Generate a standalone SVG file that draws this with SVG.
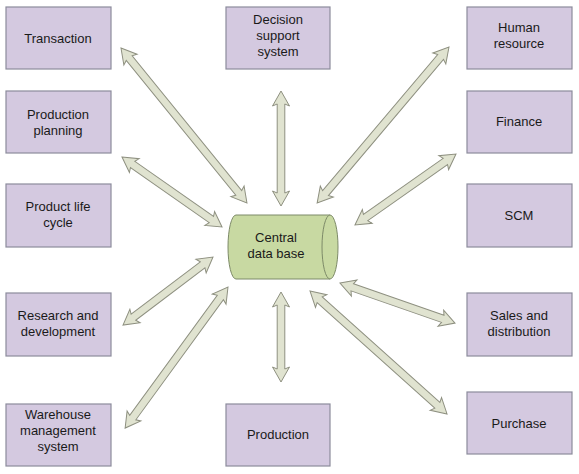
<svg xmlns="http://www.w3.org/2000/svg" width="579" height="474" viewBox="0 0 579 474">
<style>
.box{fill:#d4c9e0;stroke:#8c8c9c;stroke-width:1.2}
.t{font-family:"Liberation Sans",Arial,sans-serif;font-size:13px;fill:#1a1a1a;text-anchor:middle}
.arr{fill:#e0e3d0;stroke:#8e9080;stroke-width:1}
.cyl{fill:#c8d9a2;stroke:#7d8a68;stroke-width:1}
</style>
<rect width="579" height="474" fill="#ffffff"/>
<g id="connectors">
<path class="arr" transform="translate(121,48) rotate(50.9)" d="M0,0 L15,-8.5 L13,-3.8 L186.7,-3.8 L184.7,-8.5 L199.7,0 L184.7,8.5 L186.7,3.8 L13,3.8 L15,8.5 Z"/>
<path class="arr" transform="translate(122,157) rotate(35)" d="M0,0 L15,-8.5 L13,-3.8 L109.1,-3.8 L107.1,-8.5 L122.1,0 L107.1,8.5 L109.1,3.8 L13,3.8 L15,8.5 Z"/>
<path class="arr" transform="translate(281,91) rotate(90)" d="M0,0 L15,-8.5 L13,-3.8 L102,-3.8 L100,-8.5 L115,0 L100,8.5 L102,3.8 L13,3.8 L15,8.5 Z"/>
<path class="arr" transform="translate(449,47) rotate(130.2)" d="M0,0 L15,-8.5 L13,-3.8 L191.3,-3.8 L189.3,-8.5 L204.3,0 L189.3,8.5 L191.3,3.8 L13,3.8 L15,8.5 Z"/>
<path class="arr" transform="translate(456,154) rotate(144.9)" d="M0,0 L15,-8.5 L13,-3.8 L110.5,-3.8 L108.5,-8.5 L123.5,0 L108.5,8.5 L110.5,3.8 L13,3.8 L15,8.5 Z"/>
<path class="arr" transform="translate(213,257) rotate(142.9)" d="M0,0 L15,-8.5 L13,-3.8 L99.8,-3.8 L97.8,-8.5 L112.8,0 L97.8,8.5 L99.8,3.8 L13,3.8 L15,8.5 Z"/>
<path class="arr" transform="translate(228,287) rotate(126.1)" d="M0,0 L15,-8.5 L13,-3.8 L161.6,-3.8 L159.6,-8.5 L174.6,0 L159.6,8.5 L161.6,3.8 L13,3.8 L15,8.5 Z"/>
<path class="arr" transform="translate(281,292) rotate(90)" d="M0,0 L15,-8.5 L13,-3.8 L77,-3.8 L75,-8.5 L90,0 L75,8.5 L77,3.8 L13,3.8 L15,8.5 Z"/>
<path class="arr" transform="translate(340,283) rotate(19.2)" d="M0,0 L15,-8.5 L13,-3.8 L108.8,-3.8 L106.8,-8.5 L121.8,0 L106.8,8.5 L108.8,3.8 L13,3.8 L15,8.5 Z"/>
<path class="arr" transform="translate(310,291) rotate(41.9)" d="M0,0 L15,-8.5 L13,-3.8 L171.1,-3.8 L169.1,-8.5 L184.1,0 L169.1,8.5 L171.1,3.8 L13,3.8 L15,8.5 Z"/>
</g>
<g id="central">
<path class="cyl" d="M236,215 L330,215 A8,32 0 0 1 330,279 L236,279 A8,32 0 0 1 236,215 Z"/>
<path class="cyl" fill="none" d="M330,215 A8,32 0 0 0 330,279"/>
<text class="t" x="276" y="242">Central</text>
<text class="t" x="276" y="258">data base</text>
</g>
<g id="transaction"><rect class="box" x="6" y="7" width="105" height="62"/><text class="t" x="58" y="43">Transaction</text></g>
<g id="production-planning"><rect class="box" x="6" y="91" width="105" height="62"/><text class="t" x="58" y="119">Production</text><text class="t" x="58" y="135">planning</text></g>
<g id="product-life-cycle"><rect class="box" x="6" y="184" width="105" height="63"/><text class="t" x="58" y="211">Product life</text><text class="t" x="58" y="227">cycle</text></g>
<g id="research"><rect class="box" x="6" y="293" width="105" height="63"/><text class="t" x="58" y="320">Research and</text><text class="t" x="58" y="336">development</text></g>
<g id="warehouse"><rect class="box" x="6" y="404" width="105" height="62"/><text class="t" x="58" y="419">Warehouse</text><text class="t" x="58" y="435">management</text><text class="t" x="58" y="451">system</text></g>
<g id="decision"><rect class="box" x="226" y="7" width="104" height="62"/><text class="t" x="278" y="24">Decision</text><text class="t" x="278" y="40">support</text><text class="t" x="278" y="56">system</text></g>
<g id="production"><rect class="box" x="226" y="404" width="104" height="62"/><text class="t" x="278" y="439">Production</text></g>
<g id="human-resource"><rect class="box" x="467" y="7" width="105" height="62"/><text class="t" x="519" y="32">Human</text><text class="t" x="519" y="48">resource</text></g>
<g id="finance"><rect class="box" x="467" y="91" width="105" height="62"/><text class="t" x="519" y="126">Finance</text></g>
<g id="scm"><rect class="box" x="467" y="184" width="105" height="63"/><text class="t" x="519" y="220">SCM</text></g>
<g id="sales"><rect class="box" x="467" y="293" width="105" height="63"/><text class="t" x="519" y="320">Sales and</text><text class="t" x="519" y="336">distribution</text></g>
<g id="purchase"><rect class="box" x="467" y="392" width="105" height="62"/><text class="t" x="519" y="428">Purchase</text></g>
</svg>
